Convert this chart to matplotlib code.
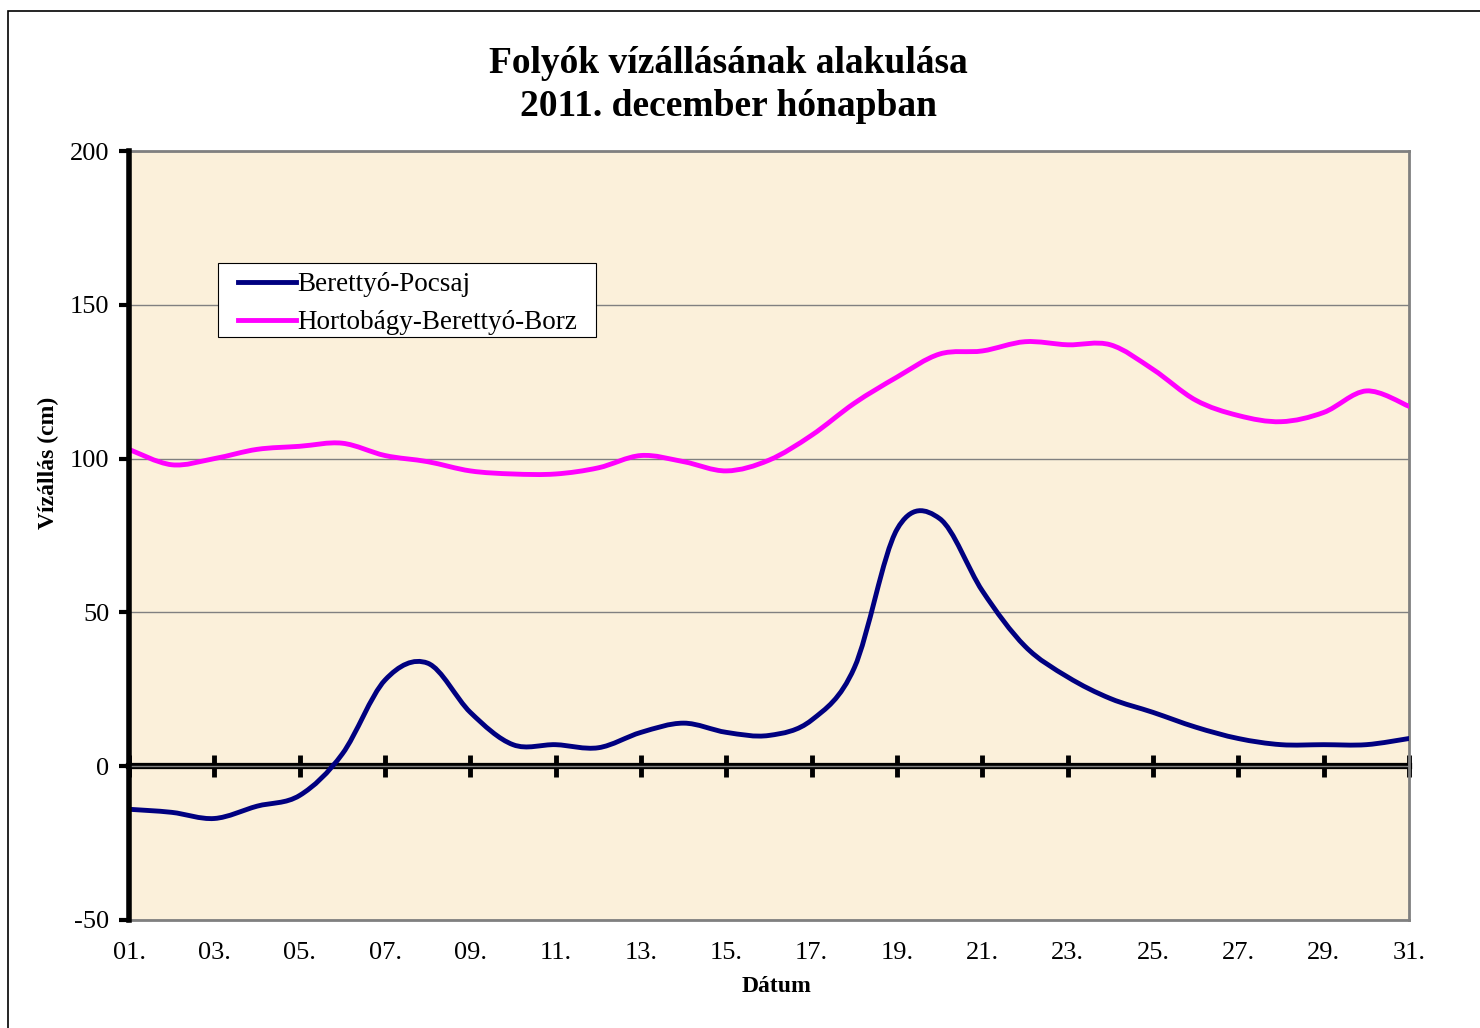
import matplotlib
matplotlib.use("Agg")
import matplotlib.pyplot as plt
from matplotlib.path import Path
from matplotlib.patches import PathPatch, Rectangle
from matplotlib.lines import Line2D
import numpy as np

plt.rcParams['font.family'] = ['Liberation Serif', 'DejaVu Serif']

days = list(range(1, 32))
tick_days = list(range(1, 32, 2))
tick_labels = [f"{d:02d}." for d in tick_days]

pocsaj = [-14, -15, -17, -13, -9.5, 4, 28, 33.5, 17.5, 7, 7, 6, 11, 14, 11, 10,
          15, 32, 77, 80.5, 57, 39, 29, 22, 17.5, 12.7, 9, 7, 7, 7, 9]
borz = [103, 98, 100, 103, 104, 105, 101, 99, 96, 95, 95, 97, 101, 99, 96, 99.5,
        107.6, 118, 126.5, 134, 135, 138, 137, 137, 129, 119, 114, 112, 115, 122, 117]

series_names = ["Berettyó-Pocsaj", "Hortobágy-Berettyó-Borz"]
series_colors = ["#000080", "#FF00FF"]

title = "Folyók vízállásának alakulása\n2011. december hónapban"


def smooth_path(x, y):
    pts = np.column_stack([x, y]).astype(float)
    n = len(pts)
    verts = [pts[0]]
    codes = [Path.MOVETO]
    for i in range(n - 1):
        p0 = pts[i - 1] if i > 0 else pts[i]
        p1 = pts[i]
        p2 = pts[i + 1]
        p3 = pts[i + 2] if i + 2 < n else pts[i + 1]
        c1 = p1 + (p2 - p0) / 6.0
        c2 = p2 - (p3 - p1) / 6.0
        verts += [c1, c2, p2]
        codes += [Path.CURVE4] * 3
    return Path(verts, codes)


fig = plt.figure(figsize=(14.8, 10.28), dpi=100)
fig.patch.set_facecolor("white")
# outer border
fig.add_artist(Rectangle((8 / 1480, -0.05), 1.2, 1 - 11 / 1028 + 0.05,
                         transform=fig.transFigure, fill=False,
                         edgecolor="black", linewidth=1.2))

ax = fig.add_axes([129 / 1480, 108 / 1028, 1280 / 1480, 769 / 1028])
ax.set_facecolor("#FBF0DA")
ax.set_xlim(1, 31)
ax.set_ylim(-50, 200)

for vals, color in zip([pocsaj, borz], series_colors):
    ax.add_patch(PathPatch(smooth_path(days, vals), fill=False,
                           edgecolor=color, linewidth=3.5, zorder=4,
                           capstyle='round', joinstyle='round'))

ax.set_yticks([-50, 0, 50, 100, 150, 200])
ax.set_yticklabels(["-50", "0", "50", "100", "150", "200"], fontsize=19)
ax.yaxis.grid(True, color="#808080", linewidth=1)
ax.set_axisbelow(True)
ax.tick_params(axis='y', direction='out', length=7, width=3, pad=7)

ax.set_xticks(tick_days)
ax.set_xticklabels(tick_labels, fontsize=19)
ax.tick_params(axis='x', length=0, pad=16)

for s in ["top", "right", "bottom"]:
    ax.spines[s].set_color("#808080")
    ax.spines[s].set_linewidth(2)
ax.spines["left"].set_color("black")
ax.spines["left"].set_linewidth(4)
ax.spines["left"].set_zorder(5)

# zero axis with ticks
sec = ax.secondary_xaxis(50 / 250)
sec.set_xticks(tick_days)
sec.set_xticklabels([])
sec.tick_params(direction='inout', length=16, width=3.5, color='black')
sec.spines['bottom'].set_linewidth(4.5)
sec.spines['bottom'].set_color('black')
sec.spines['bottom'].set_zorder(3)

ax.set_xlabel("Dátum", fontsize=17, fontweight='bold')
ax.xaxis.set_label_coords((777 - 129) / 1280, (920 - 987) / 769)
ax.xaxis.label.set_va('center')
ax.set_ylabel("Vízállás (cm)", fontsize=17, fontweight='bold')
ax.yaxis.set_label_coords((48 - 129) / 1280, (920 - 463) / 769)
ax.yaxis.label.set_va('center')

fig.text(0.492, 1 - 85 / 1028, title, ha='center', va='center',
         fontsize=27, fontweight='bold', linespacing=1.3)

# legend frame
ax.add_patch(Rectangle(((218 - 129) / 1280, (920 - 337) / 769), 378 / 1280, 74 / 769,
                       transform=ax.transAxes, facecolor='white', edgecolor='black',
                       linewidth=0.8, zorder=4.9))
handles = [Line2D([], [], color=c, linewidth=3.5) for c in series_colors]
leg = ax.legend(handles, series_names, loc='upper left',
                bbox_to_anchor=((238 - 129) / 1280, (920 - 272) / 769),
                fontsize=19.5, frameon=False,
                handlelength=2.15, handletextpad=0.05,
                borderpad=0, labelspacing=0.48, borderaxespad=0)
leg.set_zorder(5)

fig.savefig("out.png", dpi=100, facecolor="white")
